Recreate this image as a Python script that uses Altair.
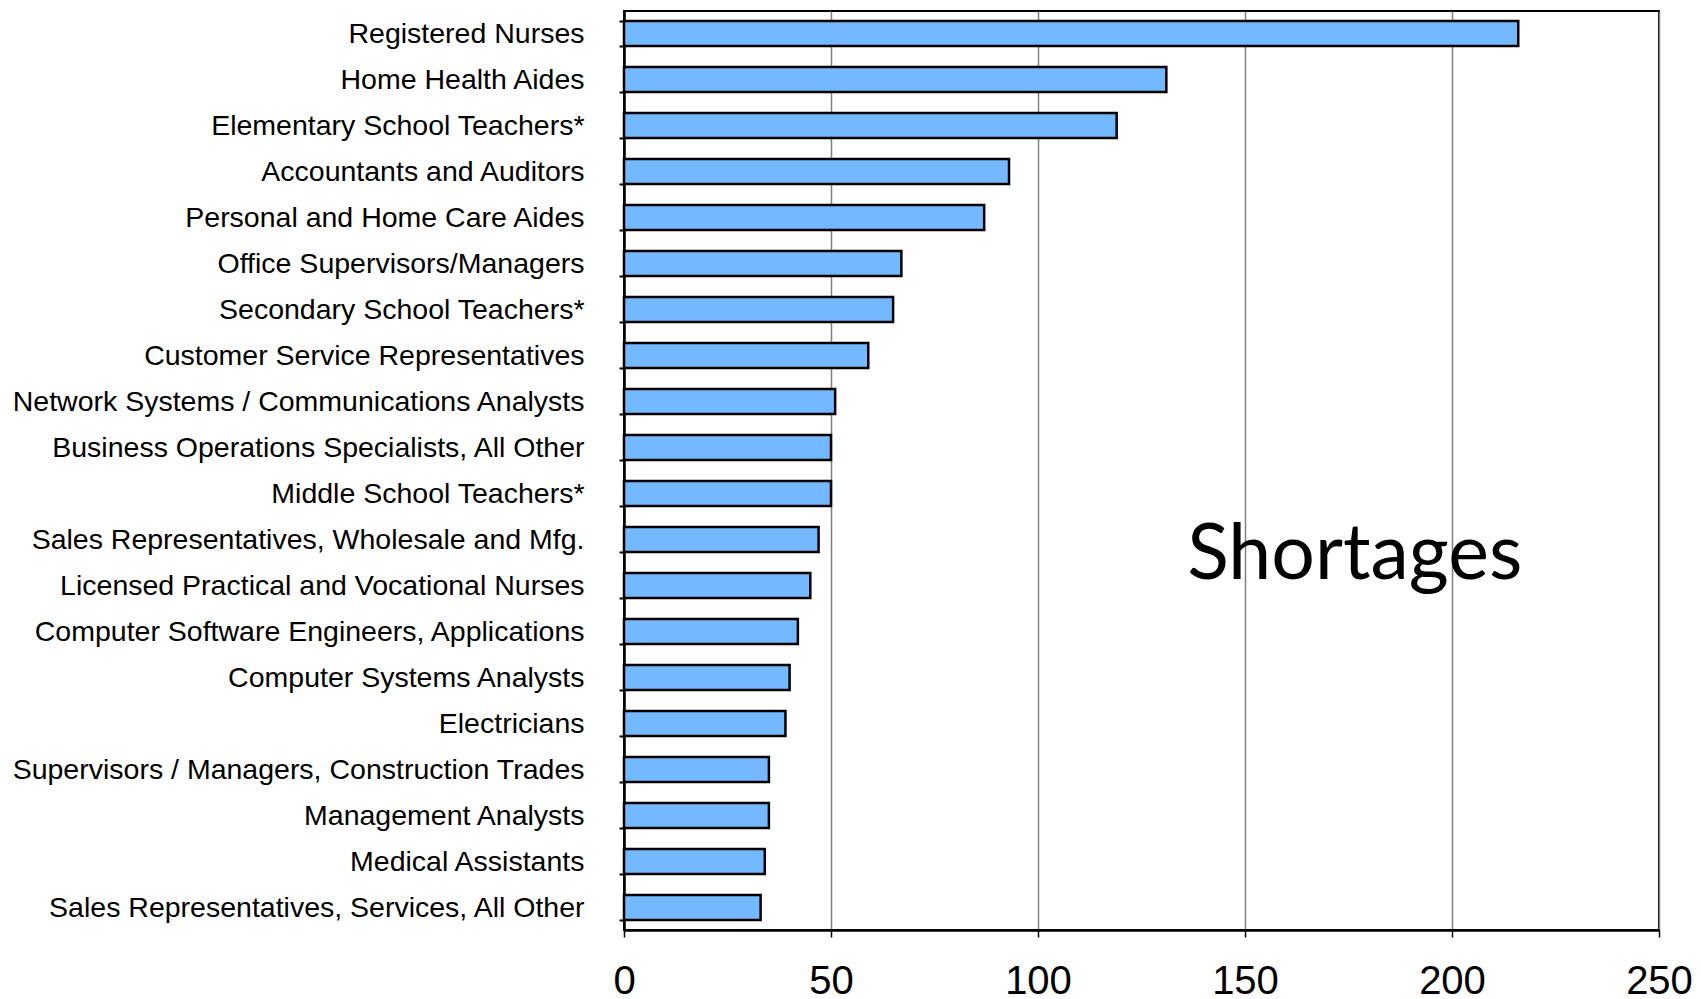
import altair as alt
import pandas as pd

occupations = [
    "Registered Nurses",
    "Home Health Aides",
    "Elementary School Teachers*",
    "Accountants and Auditors",
    "Personal and Home Care Aides",
    "Office Supervisors/Managers",
    "Secondary School Teachers*",
    "Customer Service Representatives",
    "Network Systems / Communications Analysts",
    "Business Operations Specialists, All Other",
    "Middle School Teachers*",
    "Sales Representatives, Wholesale and Mfg.",
    "Licensed Practical and Vocational Nurses",
    "Computer Software Engineers, Applications",
    "Computer Systems Analysts",
    "Electricians",
    "Supervisors / Managers, Construction Trades",
    "Management Analysts",
    "Medical Assistants",
    "Sales Representatives, Services, All Other",
]
shortages = [216, 131, 119, 93, 87, 67, 65, 59, 51, 50, 50, 47, 45, 42, 40, 39, 35, 35, 34, 33]
x_ticks = [0, 50, 100, 150, 200, 250]

annotation_text = ["Shortages"]
annotation_x = [176.5]
annotation_row = ["Sales Representatives, Wholesale and Mfg."]

df = pd.DataFrame({"occupation": occupations, "value": shortages})
ann = pd.DataFrame({"text": annotation_text, "x": annotation_x, "occupation": annotation_row})

y_enc = alt.Y(
    "occupation:N",
    sort=occupations,
    title=None,
    scale=alt.Scale(paddingInner=0.46, paddingOuter=0.22),
    axis=alt.Axis(
        labelFont="Liberation Sans",
        labelFontSize=28.5,
        labelColor="black",
        labelPadding=35,
        labelLimit=800,
        tickSize=5,
        tickColor="black",
        tickWidth=2,
        tickBand="extent",
        domainColor="black",
        domainWidth=2.5,
        grid=False,
    ),
)

x_scale = alt.Scale(domain=[0, 250], nice=False)

bars = alt.Chart(df).mark_bar(
    fill="#74B9FF", stroke="black", strokeWidth=2.5
).encode(
    x=alt.X(
        "value:Q",
        scale=x_scale,
        title=None,
        axis=alt.Axis(
            values=x_ticks,
            labelFont="Liberation Sans Narrow, Liberation Sans",
            labelFontSize=40,
            labelColor="black",
            labelPadding=24,
            labelFlush=False,
            tickSize=7,
            tickColor="black",
            tickWidth=1.5,
            domainColor="black",
            domainWidth=2.5,
            grid=True,
            gridColor="#808080",
            gridWidth=1.5,
        ),
    ),
    y=y_enc,
)

label = alt.Chart(ann).mark_text(
    font="Lato", fontSize=77, color="black", align="center", baseline="alphabetic", dy=40
).encode(
    x=alt.X("x:Q", scale=x_scale, title=None),
    y=alt.Y("occupation:N", sort=occupations, title=None),
    text="text:N",
)

chart = alt.layer(bars, label).properties(
    width=1035,
    height=919,
    autosize=alt.AutoSizeParams(type="none"),
    padding={"left": 616, "top": 3, "right": 34, "bottom": 69},
).configure(
    background="white"
).configure_view(
    stroke="black", strokeWidth=2
)

chart.save("out.html", embed_options={"renderer": "svg", "actions": False})
